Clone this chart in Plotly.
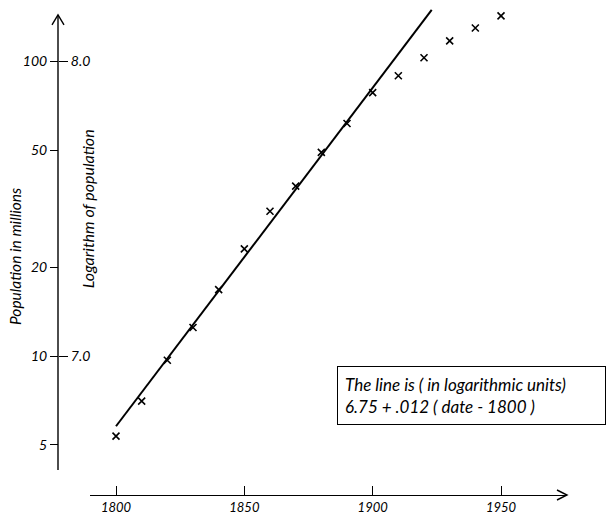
import plotly.graph_objects as go

# ---- data ----
YEARS = [1800, 1810, 1820, 1830, 1840, 1850, 1860, 1870,
         1880, 1890, 1900, 1910, 1920, 1930, 1940, 1950]
POP_MILLIONS = [5.35, 7.03, 9.68, 12.5, 16.8, 23.1, 31.0, 37.7,
                49.1, 61.5, 78.3, 89.3, 102.8, 117.3, 129.7, 142.5]
LINE_YEARS = [1800, 1923]
LINE_POP = [5.78, 149.3]
X_TICKS = [1800, 1850, 1900, 1950]
Y_TICKS = [5, 10, 20, 50, 100]
Y_TICK_TEXT = ["5", "10", "20", "50", "100"]
LOG_TICKS = [7.0, 8.0]
LOG_TICK_TEXT = ["7.0", "8.0"]

W, H = 608, 520
L, R, T, B = 58, 41, 5, 23
PW, PH = W - L - R, H - T - B


def px_x(px):
    return (px - L) / PW


def px_y(py):
    return (H - B - py) / PH


FONT = dict(family="Lato, sans-serif", color="black", style="italic")

Y_LOG_RANGE = [0.6132, 2.1909]

fig = go.Figure()
fig.add_trace(go.Scatter(
    x=LINE_YEARS, y=LINE_POP, mode="lines",
    line=dict(color="black", width=2), showlegend=False, hoverinfo="skip"))
fig.add_trace(go.Scatter(
    x=YEARS, y=POP_MILLIONS, mode="markers",
    marker=dict(symbol="x-thin", size=7, color="black",
                line=dict(width=1.6, color="black")),
    cliponaxis=False, showlegend=False))
fig.add_trace(go.Scatter(x=[], y=[], xaxis="x", yaxis="y2", showlegend=False))

fig.update_layout(
    width=W, height=H,
    margin=dict(l=L, r=R, t=T, b=B),
    paper_bgcolor="white", plot_bgcolor="white",
    xaxis=dict(
        range=[1789.87, 1975.71], domain=[px_x(90), 1],
        anchor="free", position=0,
        showline=True, linecolor="black", linewidth=1.4,
        ticks="inside", ticklen=9, tickwidth=1.4, tickcolor="black",
        tickvals=X_TICKS, ticktext=[str(v) for v in X_TICKS],
        tickfont=dict(size=13, **FONT),
        showgrid=False, zeroline=False),
    yaxis=dict(
        type="log", range=Y_LOG_RANGE, domain=[px_y(472), 1],
        anchor="free", position=0,
        showline=False,
        ticks="outside", ticklen=8, tickwidth=1.4, tickcolor="black",
        tickvals=Y_TICKS, ticktext=Y_TICK_TEXT,
        tickfont=dict(size=14, **FONT),
        showgrid=False, zeroline=False),
    yaxis2=dict(
        overlaying="y", side="right", anchor="free", position=0,
        range=[Y_LOG_RANGE[0] + 6, Y_LOG_RANGE[1] + 6],
        showline=False,
        ticks="outside", ticklen=9, tickwidth=1.4, tickcolor="black",
        tickvals=LOG_TICKS, ticktext=LOG_TICK_TEXT,
        tickfont=dict(size=14, **FONT),
        showgrid=False, zeroline=False),
    shapes=[
        dict(type="line", xref="paper", yref="paper",
             x0=0, x1=0, y0=px_y(472), y1=px_y(15),
             line=dict(color="black", width=1.4)),
        dict(type="path", xref="paper", yref="paper",
             xsizemode="pixel", ysizemode="pixel",
             xanchor=0, yanchor=px_y(15),
             path="M -6,-10 L 0,0 L 6,-10",
             line=dict(color="black", width=1.4)),
        dict(type="path", xref="paper", yref="paper",
             xsizemode="pixel", ysizemode="pixel",
             xanchor=1, yanchor=0,
             path="M -10,5 L 0,0 L -10,-5",
             line=dict(color="black", width=1.4)),
    ],
    annotations=[
        dict(text="Population in millions", textangle=-90,
             xref="paper", yref="paper", x=px_x(15), y=px_y(258),
             xanchor="center", yanchor="middle", showarrow=False,
             font=dict(size=15.5, **FONT)),
        dict(text="Logarithm of population", textangle=-90,
             xref="paper", yref="paper", x=px_x(87), y=px_y(210),
             xanchor="center", yanchor="middle", showarrow=False,
             font=dict(size=16, **FONT)),
        dict(text="The line is ( in logarithmic units)<br>6.75 + .012 ( date - 1800 )",
             xref="paper", yref="paper", x=px_x(337), y=px_y(397),
             xanchor="left", yanchor="middle", showarrow=False,
             align="left", width=253, borderpad=7,
             bordercolor="black", borderwidth=1, bgcolor="white",
             font=dict(size=17, **FONT)),
    ],
)

fig.write_html("out.html")
